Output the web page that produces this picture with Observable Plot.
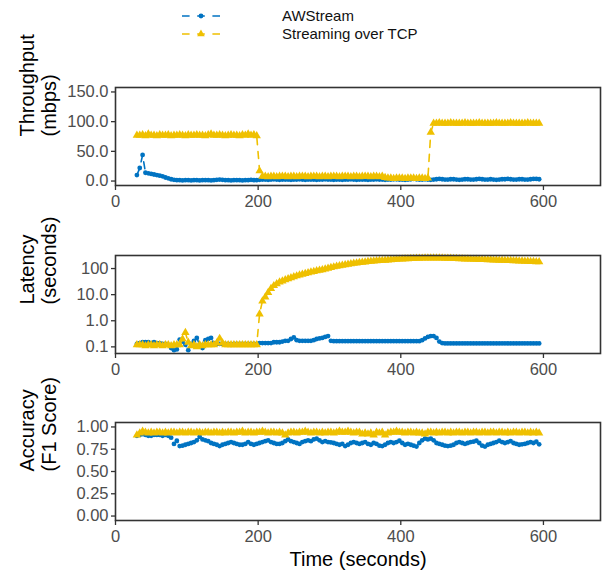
<!DOCTYPE html>
<html>
<head>
<meta charset="utf-8">
<script src="https://cdn.jsdelivr.net/npm/d3@7"></script>
<script src="https://cdn.jsdelivr.net/npm/@observablehq/plot@0.6"></script>
<style>
  body { margin: 0; background: #fff; font-family: "Liberation Sans", Arial, sans-serif; }
  #root { position: relative; width: 602px; height: 571px; overflow: hidden; background: #fff; }
  .panel { position: absolute; left: 0; }
  .panel svg { display: block; }
</style>
</head>
<body>
<div id="root"></div>
<script>
// ---------------- data ----------------
const time = d3.range(30, 595, 4); // sampling grid (seconds), 142 samples

const seriesNames = ["AWStream", "Streaming over TCP"];
const seriesColors = ["#0073C2", "#EFC000"];

const xTicks = [0, 200, 400, 600];
const xTickLabels = ["0", "200", "400", "600"];

const tputTicks = [0, 50, 100, 150];
const tputTickLabels = ["0.0", "50.0", "100.0", "150.0"];
const latTicks = [0.1, 1, 10, 100];
const latTickLabels = ["0.1", "1.0", "10.0", "100"];
const accTicks = [0, 0.25, 0.5, 0.75, 1];
const accTickLabels = ["0.00", "0.25", "0.50", "0.75", "1.00"];

const tputAw = [
  10,22,44,14,13,12,11,10,9,8,6,4.5,3,2,1.5,
  1.5,1,1.5,1.5,1,1.5,1.5,1,1.5,1.5, 1.5,1,1.5,2,2.5,2,1.5,1.5,1,1.5, 1.5,1.5,1,1.5,1.5,2,1.5,1.5,
  2,2.5,2.5,2,2.5,3,2.5,2,2.5,2.5,
  2.5,2,2.5,2.5,3,2.5,2,2.5,2.5,2.5,
  2,2.5,2.5,3,2.5,2.5,2,2.5,2.5,2,
  2.5,2.5,3,2.5,2,2.5,2.5,2.5,2,2.5,
  2.5,3,2.5,2.5,2,2.5,2.5,3,3,2.5,
  2.5,2,2.5,3,3.5,3,2.5,2.5,3,2.5,
  2,2.5,3,3.5,3,2.5,2.5,3,3,2.5,
  2,2.5,3,3,2.5,2.5,3,3.5,3,2.5,
  2.5,3,2.5,2,2.5,3,3,3.5,3,2.5,
  2.5,3,3,2.5,2.5,3,3.5,3.5,3
];
const tputTcp = [
  77,77,78,76,79,77,77,76,78,77,
  77,78,76,77,77,78,77,76,78,77,
  77,78,77,77,76,78,79,77,77,78,
  77,76,77,78,77,77,76,78,77,79,
  77,78,76,
  17,
  8,8,7,8,8,7,8,8,8,7, 8,8,7,8,8,8,7,8,8,8, 7,8,8,7,8,8,8,7,8,8, 8,7,8,8,7,8,8,8,7,8, 8,7,8,6,
  5,5,4,5,5,5,4,5,5,5,4,5,5,4,5,
  82,
  97,97,98,97,97,97,98,97,97,97, 97,98,97,97,97,97,98,97,97,97, 97,97,98,97,97,97,97,98,97,97, 97,97,97,98,97,97,97,97
];

const latAw = [
  0.13,0.14,0.15,0.15,0.15,0.14,0.15,0.14,0.14,0.13,
  0.13,0.12,0.09,0.075,0.08,0.19,0.16,0.12,0.075,0.13,
  0.17,0.22,0.12,0.09,0.18,0.2,0.22,0.14,0.13,0.13,
  0.13,0.13,0.13,0.12,0.13,0.13,0.13,0.13,0.13,0.13,
  0.13,0.13,0.13,0.14,0.14,0.14,0.14,0.14,0.15,0.15,
  0.15,0.16,0.17,0.17,0.2,0.23,0.18,0.17,0.17,0.17,
  0.17,0.17,0.18,0.2,0.21,0.22,0.24,0.26,0.17,0.165,
  0.165,0.165,0.165,0.165,0.165,0.165,0.165,0.165,0.165,0.165,
  0.165,0.165,0.165,0.165,0.165,0.165,0.165,0.165,0.165,0.165,
  0.165,0.165,0.165,0.165,0.165,0.165,0.165,0.165,0.165,0.165,
  0.18,0.21,0.24,0.26,0.26,0.22,0.16,0.14,0.135,0.135,
  0.135,0.135,0.135,0.135,0.135,0.135,0.135,0.135,0.135,0.135,
  0.135,0.135,0.135,0.135,0.135,0.135,0.135,0.135,0.135,0.135,
  0.135,0.135,0.135,0.135,0.135,0.135,0.135,0.135,0.135,0.135,
  0.135,0.135
];
const latTcp = [
  0.12,0.12,0.12,0.11,0.12,0.12,0.11,0.12,0.12,0.11,
  0.12,0.12,0.11,0.12,0.12,0.12,0.2,0.35,0.15,0.11,
  0.12,0.1,0.12,0.11,0.12,0.12,0.12,0.12,0.14,0.21,
  0.14,0.12,0.12,0.12,0.12,0.12,0.12,0.12,0.12,0.12,
  0.12,0.12,0.12,
  1.8,
  5.7,8,12,17,22,26,30,33,37,40,
  44,48,52,56,60,64,68,73,77,81,
  86,90,95,101,108,115,121,128,134,140,
  146,152,158,163,168,173,178,183,188,192,
  196,200,204,208,212,216,220,224,228,231,
  234,237,240,243,245,247,249,251,252,253,
  253,252,251,250,248,246,244,242,240,237,
  235,232,230,228,226,224,222,220,218,216,
  214,212,210,208,206,204,202,200,198,196,
  194,192,190,188,186,184,182,180
];

const accAw = [
  0.90,0.91,0.92,0.91,0.90,0.90,0.91,0.91,0.91,0.90,
  0.91,0.90,0.88,0.81,0.845,0.785,0.79,0.80,0.81,0.82,
  0.83,0.85,0.89,0.86,0.85,0.84,0.82,0.81,0.80,0.785,
  0.80,0.81,0.82,0.83,0.82,0.81,0.80,0.80,0.81,0.83,
  0.81,0.80,0.81,0.82,0.83,0.84,0.85,0.83,0.82,0.81,
  0.81,0.82,0.84,0.86,0.84,0.83,0.82,0.81,0.83,0.84,
  0.85,0.84,0.86,0.87,0.85,0.83,0.84,0.83,0.826,0.82,
  0.81,0.80,0.81,0.785,0.80,0.82,0.83,0.82,0.81,0.82,
  0.83,0.81,0.80,0.82,0.81,0.79,0.785,0.80,0.82,0.83,
  0.82,0.83,0.845,0.82,0.80,0.81,0.80,0.79,0.78,0.82,
  0.85,0.87,0.86,0.87,0.85,0.82,0.81,0.80,0.79,0.785,
  0.79,0.80,0.82,0.83,0.82,0.81,0.82,0.83,0.835,0.845,
  0.82,0.79,0.78,0.80,0.81,0.82,0.83,0.845,0.83,0.82,
  0.83,0.84,0.82,0.81,0.80,0.805,0.81,0.82,0.83,0.82,
  0.835,0.805
];
const accTcp = [
  0.91,0.93,0.95,0.94,0.93,0.94,0.93,0.94,0.94,0.93,
  0.94,0.93,0.94,0.94,0.93,0.94,0.94,0.93,0.94,0.94,
  0.93,0.94,0.94,0.93,0.94,0.94,0.93,0.94,0.94,0.93,
  0.94,0.93,0.94,0.94,0.93,0.94,0.94,0.95,0.93,0.94,
  0.94,0.93,0.94,0.94,0.95,0.94,0.93,0.94,0.94,0.93,
  0.94,0.93,0.91,0.93,0.94,0.94,0.93,0.94,0.94,0.95,
  0.94,0.93,0.94,0.94,0.93,0.94,0.93,0.94,0.94,0.93,
  0.94,0.95,0.94,0.94,0.95,0.94,0.93,0.94,0.94,0.92,
  0.93,0.92,0.93,0.91,0.94,0.93,0.94,0.91,0.93,0.94,
  0.94,0.95,0.94,0.94,0.93,0.94,0.94,0.93,0.94,0.93,
  0.93,0.92,0.94,0.94,0.93,0.94,0.93,0.94,0.94,0.93,
  0.94,0.93,0.94,0.94,0.93,0.94,0.94,0.93,0.94,0.94,
  0.93,0.94,0.94,0.93,0.94,0.94,0.93,0.94,0.94,0.93,
  0.94,0.93,0.94,0.94,0.93,0.94,0.94,0.93,0.94,0.93,
  0.94,0.93
];

// ---------------- drawing ----------------
const FONT = '"Liberation Sans", Arial, Helvetica, sans-serif';
const root = document.getElementById("root");

function makePanel(cfg) {
  const aw = time.map((t, i) => ({t, v: cfg.aw[i]}));
  const tcp = time.map((t, i) => ({t, v: cfg.tcp[i]}));
  const marks = [
    Plot.line(aw, {x: "t", y: "v", stroke: seriesColors[0], strokeWidth: 1.6, strokeDasharray: "7,7"}),
    Plot.dot(aw, {x: "t", y: "v", fill: seriesColors[0], stroke: "none", r: 2.4, symbol: "circle"}),
    Plot.line(tcp, {x: "t", y: "v", stroke: seriesColors[1], strokeWidth: 1.6, strokeDasharray: "7,7"}),
    Plot.dot(tcp, {x: "t", y: "v", fill: seriesColors[1], stroke: "none", r: 3.1, symbol: "triangle"}),
    Plot.frame({stroke: "#333", strokeWidth: 1.6}),
    Plot.axisX({ticks: xTicks, tickFormat: d => xTickLabels[xTicks.indexOf(d)], tickSize: 5, tickPadding: 5,
      label: null, stroke: "#333", strokeWidth: 1.3, fill: "#4d4d4d", fontSize: 16.5}),
    Plot.axisY({ticks: cfg.ticks, tickFormat: d => cfg.labels[cfg.ticks.indexOf(d)], tickSize: 4, tickPadding: 3,
      label: null, stroke: "#333", strokeWidth: 1.3, fill: "#4d4d4d", fontSize: 16.5}),
    Plot.text([cfg.title], {text: d => d, frameAnchor: "left", dx: -78, rotate: -90, fontSize: 20,
      lineHeight: 1.1, fill: "black"})
  ];
  if (cfg.xTitle) {
    marks.push(Plot.text([cfg.xTitle], {text: d => d, frameAnchor: "bottom", dy: 45, fontSize: 20, fill: "black"}));
  }
  const plot = Plot.plot({
    width: 602,
    height: 7 + 98 + cfg.marginBottom,
    marginLeft: 115, marginRight: 2, marginTop: 7, marginBottom: cfg.marginBottom,
    style: {fontFamily: FONT, fontSize: "16.5px", background: "transparent", overflow: "visible"},
    x: {domain: [0, 680]},
    y: {type: cfg.type, domain: cfg.domain},
    marks
  });
  const div = document.createElement("div");
  div.className = "panel";
  div.style.top = cfg.top + "px";
  div.appendChild(plot);
  root.appendChild(div);
}

makePanel({aw: tputAw, tcp: tputTcp, type: "linear", domain: [-7.5, 157.5], ticks: tputTicks,
  labels: tputTickLabels, title: "Throughput\n(mbps)", top: 80, marginBottom: 28});
makePanel({aw: latAw, tcp: latTcp, type: "log", domain: [0.0557, 316], ticks: latTicks,
  labels: latTickLabels, title: "Latency\n(seconds)", top: 248, marginBottom: 28});
makePanel({aw: accAw, tcp: accTcp, type: "linear", domain: [-0.05, 1.05], ticks: accTicks,
  labels: accTickLabels, title: "Accuracy\n(F1 Score)", top: 415, marginBottom: 56, xTitle: "Time (seconds)"});

// ---------------- legend ----------------
const legend = d3.select(root).append("svg")
  .attr("width", 602).attr("height", 50)
  .style("position", "absolute").style("left", "0px").style("top", "0px")
  .style("font-family", FONT);
const rowY = [16, 34];
seriesNames.forEach((name, i) => {
  const g = legend.append("g").attr("transform", `translate(0,${rowY[i]})`);
  g.append("line").attr("x1", 182).attr("x2", 220).attr("y1", 0).attr("y2", 0)
    .attr("stroke", seriesColors[i]).attr("stroke-width", 1.6).attr("stroke-dasharray", "7.6,7.6");
  const sym = i === 0 ? d3.symbolCircle : d3.symbolTriangle;
  const size = i === 0 ? Math.PI * 2.4 * 2.4 : 3.1 * 3.1 * 2.6;
  g.append("path").attr("d", d3.symbol(sym, size)()).attr("transform", "translate(201,0)")
    .attr("fill", seriesColors[i]);
  g.append("text").attr("x", 282).attr("y", 0).attr("dy", "0.35em")
    .attr("font-size", 15).attr("fill", "#111").text(name);
});
</script>
</body>
</html>
